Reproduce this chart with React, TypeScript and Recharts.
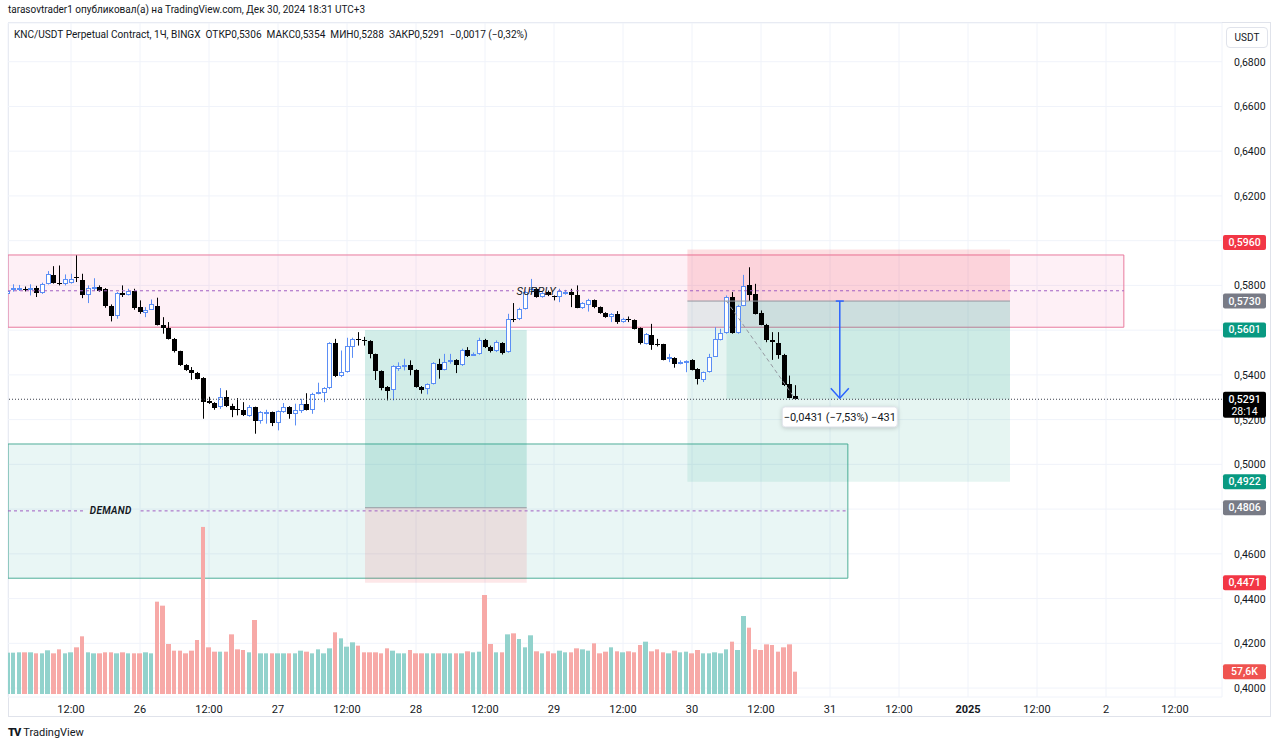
import React from 'react';
import {
  ComposedChart,
  Bar,
  XAxis,
  YAxis,
  CartesianGrid,
  ReferenceArea,
  ReferenceLine,
  ReferenceDot,
} from 'recharts';

// ---------- DATA ----------
// hourly candles, hour index relative to 26 Dec 2024 00:00 (UTC+3)
const FIRST_HOUR = -23;

const opens = [
  0.5763, 0.5785, 0.5784, 0.5784, 0.5778, 0.5789, 0.5765, 0.5807, 0.5847, 0.5811,
  0.5807, 0.5811, 0.5836, 0.5826, 0.5755, 0.5788, 0.5795, 0.5782, 0.571, 0.5663,
  0.5767, 0.5758, 0.5773, 0.5703, 0.5678, 0.5692, 0.571, 0.5625, 0.5611, 0.5561,
  0.5505, 0.5445, 0.5423, 0.5408, 0.5387, 0.5282, 0.5275, 0.5256, 0.5301, 0.5263,
  0.5246, 0.5241, 0.5216, 0.5256, 0.5192, 0.5228, 0.5234, 0.5186, 0.5234, 0.5256,
  0.5226, 0.5237, 0.5271, 0.5244, 0.5316, 0.5318, 0.534, 0.5542, 0.5393, 0.5413,
  0.5524, 0.5561, 0.5555, 0.5551, 0.5492, 0.5418, 0.5346, 0.5331, 0.5428, 0.5437,
  0.5445, 0.5423, 0.5348, 0.5336, 0.536, 0.545, 0.5423, 0.5457, 0.5467, 0.5445,
  0.5512, 0.549, 0.5494, 0.5554, 0.5524, 0.5505, 0.5542, 0.5502, 0.5651, 0.5648,
  0.5695, 0.577, 0.5785, 0.5748, 0.577, 0.5752, 0.5748, 0.5762, 0.5772, 0.5755,
  0.57, 0.5713, 0.5733, 0.5703, 0.5676, 0.5658, 0.567, 0.5636, 0.5648, 0.5646,
  0.561, 0.5539, 0.5579, 0.554, 0.5536, 0.5472, 0.5476, 0.5453, 0.5457, 0.5467,
  0.5427, 0.5378, 0.5412, 0.5482, 0.5557, 0.5587, 0.5747, 0.5587, 0.571, 0.5802,
  0.5762, 0.5676, 0.5625, 0.5557, 0.5542, 0.5491, 0.5357, 0.5306,
];
const highs = [
  0.5785, 0.5805, 0.5802, 0.5795, 0.5805, 0.5798, 0.5812, 0.5864, 0.5886, 0.5889,
  0.5849, 0.5852, 0.5934, 0.5852, 0.58, 0.5832, 0.58, 0.5788, 0.5715, 0.577,
  0.58, 0.5785, 0.5785, 0.5733, 0.5703, 0.5737, 0.5745, 0.5658, 0.5636, 0.5565,
  0.5508, 0.5448, 0.5435, 0.5413, 0.539, 0.5302, 0.5278, 0.5341, 0.5331, 0.5271,
  0.5296, 0.5278, 0.5265, 0.5258, 0.5238, 0.5244, 0.5236, 0.5241, 0.5274, 0.526,
  0.5271, 0.5293, 0.5318, 0.532, 0.5365, 0.5345, 0.5546, 0.5561, 0.5509, 0.5566,
  0.5566, 0.5591, 0.557, 0.5555, 0.5495, 0.542, 0.535, 0.5443, 0.5456, 0.5472,
  0.5465, 0.5425, 0.535, 0.5362, 0.5457, 0.5472, 0.5494, 0.5494, 0.547, 0.5517,
  0.5524, 0.55, 0.5566, 0.5561, 0.5531, 0.5554, 0.5546, 0.5673, 0.5721, 0.57,
  0.5777, 0.5829, 0.579, 0.577, 0.5777, 0.5755, 0.5785, 0.578, 0.5785, 0.58,
  0.5725, 0.574, 0.5737, 0.5706, 0.568, 0.5676, 0.5685, 0.5655, 0.5661, 0.5648,
  0.5612, 0.5587, 0.5628, 0.5561, 0.5539, 0.5494, 0.5479, 0.5465, 0.5465, 0.547,
  0.543, 0.5415, 0.5494, 0.5613, 0.5606, 0.5755, 0.577, 0.5713, 0.5847, 0.5881,
  0.5807, 0.5688, 0.5628, 0.5591, 0.5591, 0.5494, 0.5397, 0.5354,
];
const lows = [
  0.5758, 0.5772, 0.5775, 0.5773, 0.5755, 0.5748, 0.5762, 0.5804, 0.5808, 0.58,
  0.58, 0.5808, 0.5815, 0.5743, 0.5721, 0.5777, 0.5772, 0.57, 0.5639, 0.5651,
  0.5748, 0.5755, 0.5691, 0.5673, 0.5658, 0.569, 0.5621, 0.5584, 0.5558, 0.55,
  0.544, 0.5418, 0.5378, 0.538, 0.5204, 0.527, 0.5244, 0.5248, 0.5256, 0.5211,
  0.5219, 0.5216, 0.5213, 0.5137, 0.5182, 0.5182, 0.5171, 0.5152, 0.523, 0.5204,
  0.5174, 0.523, 0.5241, 0.5226, 0.5313, 0.5278, 0.5336, 0.539, 0.539, 0.541,
  0.5476, 0.5531, 0.5531, 0.5474, 0.5377, 0.5331, 0.5286, 0.5286, 0.5418, 0.542,
  0.5398, 0.5343, 0.5316, 0.5313, 0.5357, 0.5383, 0.542, 0.545, 0.5408, 0.544,
  0.548, 0.5488, 0.549, 0.552, 0.55, 0.5502, 0.5491, 0.5499, 0.5636, 0.5645,
  0.5692, 0.5762, 0.5745, 0.5745, 0.5752, 0.5733, 0.5725, 0.5758, 0.5703, 0.5698,
  0.5695, 0.5683, 0.5698, 0.5673, 0.5655, 0.5636, 0.5628, 0.5633, 0.5636, 0.5603,
  0.5536, 0.5536, 0.5512, 0.5527, 0.5465, 0.5457, 0.5432, 0.5447, 0.5412, 0.542,
  0.5357, 0.5368, 0.541, 0.548, 0.5554, 0.5584, 0.5584, 0.5584, 0.5707, 0.573,
  0.567, 0.5622, 0.5546, 0.5467, 0.5472, 0.535, 0.5295, 0.5288,
];
const closes = [
  0.5777, 0.579, 0.5789, 0.578, 0.5789, 0.5765, 0.5807, 0.5852, 0.5811, 0.5806,
  0.5829, 0.5829, 0.5832, 0.5755, 0.5788, 0.5793, 0.5777, 0.571, 0.5663, 0.5765,
  0.5755, 0.5773, 0.57, 0.568, 0.5691, 0.5715, 0.5625, 0.5611, 0.5561, 0.5505,
  0.5445, 0.5423, 0.5408, 0.5383, 0.5278, 0.5276, 0.5253, 0.5301, 0.5259, 0.5241,
  0.5244, 0.5219, 0.5256, 0.5192, 0.5234, 0.5234, 0.5186, 0.5237, 0.5256, 0.5226,
  0.5241, 0.5271, 0.5244, 0.5316, 0.5323, 0.534, 0.5542, 0.5393, 0.5413, 0.5531,
  0.5561, 0.5555, 0.5551, 0.5492, 0.5418, 0.5343, 0.5328, 0.5438, 0.5441, 0.5445,
  0.542, 0.5346, 0.5334, 0.536, 0.5453, 0.5423, 0.5457, 0.5467, 0.5445, 0.5512,
  0.5484, 0.5494, 0.5554, 0.5524, 0.5505, 0.5546, 0.5497, 0.5651, 0.5646, 0.5695,
  0.577, 0.5785, 0.5748, 0.5765, 0.5755, 0.5748, 0.5777, 0.577, 0.5758, 0.57,
  0.5721, 0.5733, 0.5703, 0.5676, 0.5658, 0.5673, 0.5636, 0.5651, 0.5646, 0.5606,
  0.5542, 0.5584, 0.5535, 0.5538, 0.5467, 0.5479, 0.545, 0.5457, 0.5462, 0.5423,
  0.5383, 0.5412, 0.5482, 0.5561, 0.5587, 0.5747, 0.5587, 0.571, 0.5797, 0.5759,
  0.5673, 0.5625, 0.5554, 0.5546, 0.5487, 0.5353, 0.5298, 0.5291,
];
// volume, thousands of KNC
const volumesK = [
  106.6, 106.6, 107.5, 107.5, 107.5, 104.9, 104.9, 112.7, 104.9, 115.2,
  104.9, 107.5, 120.4, 148.8, 107.5, 104.9, 104.9, 107.5, 107.5, 104.9,
  107.5, 104.9, 104.9, 104.9, 107.5, 104.9, 238.2, 227.9, 129, 111.8,
  111.8, 104.9, 111.8, 139.3, 431, 120.4, 109.2, 109.2, 109.2, 153.9,
  115.2, 113.5, 107.5, 190.9, 104.9, 104.9, 104.9, 104.9, 104.9, 104.9,
  104.9, 111.8, 109.2, 104.9, 115.2, 104.9, 117.8, 159.1, 143.6, 122.1,
  133.3, 124.7, 107.5, 107.5, 107.5, 104.9, 117.8, 111.8, 104.9, 104.9,
  113.5, 104.9, 104.9, 104.9, 104.9, 104.9, 104.9, 104.9, 104.9, 104.9,
  110.1, 107.5, 109.2, 255.4, 129, 107.5, 107.5, 153.9, 156.5, 141.9,
  120.4, 151.4, 110.1, 104.9, 110.1, 104.9, 111.8, 107.5, 107.5, 117.8,
  115.2, 111.8, 130.7, 104.9, 109.2, 120.4, 110.1, 107.5, 110.1, 107.5,
  126.4, 135, 110.1, 115.2, 107.5, 104.9, 111.8, 107.5, 109.2, 104.9,
  113.5, 104.9, 104.9, 107.5, 104.9, 115.2, 135, 113.5, 201.2, 171.1,
  115.2, 113.5, 128.1, 126.4, 109.2, 120.4, 128.1, 57.6,
];

// time axis
const timeTicks = [-12, 0, 12, 24, 36, 48, 60, 72, 84, 96, 108, 120, 132, 144, 156, 168, 180];
const timeTickLabels = ['12:00', '26', '12:00', '27', '12:00', '28', '12:00', '29', '12:00', '30', '12:00', '31', '12:00', '2025', '12:00', '2', '12:00'];
// price axis
const priceTicks = [0.4, 0.42, 0.44, 0.46, 0.48, 0.5, 0.52, 0.54, 0.56, 0.58, 0.6, 0.62, 0.64, 0.66, 0.68];
// price-scale labels that sit fully under a price tag
const coveredPriceTicks = [0.48, 0.56];

// drawings (hour index / price)
const supplyZone = { from: -22.96, to: 171.1, top: 0.5936, bottom: 0.5613, mid: 0.5776, labelAt: 68.9, gapFrom: 65.0, gapTo: 72.7 };
const demandZone = { from: -22.96, to: 123.1, top: 0.5091, bottom: 0.4491, mid: 0.4792, labelAt: -5.1, gapFrom: -9.9, gapTo: 0.1 };
const longPos = { from: 39.13, to: 67.25, target: 0.5601, entry: 0.4806, stop: 0.4471 };
const shortPos = { from: 95.2, to: 151.3, stop: 0.596, entry: 0.573, target: 0.4922, fillFrom: 102.0, current: 0.5291 };
const measure = { at: 121.7, from: 0.573, to: 0.5296, label: '\u22120,0431 (\u22127,53%) \u2212431', labelPrice: 0.5212 };
const tradeLine = { x1: 102.0, p1: 0.573, x2: 114, p2: 0.5291 };
const lastPrice = 0.5291;
const lastVolumeK = 57.6;

// ---------- LAYOUT / STYLE ----------
const W = 1280;
const H = 748;
const X_MIN = -22.96;
const X_MAX = 188.17;
const P_MIN = 0.396;
const P_MAX = 0.6973;
const V_MIN = -7.74;
const V_MAX = 1731;
const FONT = "Roboto, 'Noto Sans', 'DejaVu Sans', sans-serif";
const TEXT = '#131722';
const UP = '#5b8ef5';
const DOWN = '#000000';
const VOL_UP = '#92d2cc';
const VOL_DOWN = '#f7a9a7';
const RED = '#f23645';
const GREEN = '#089981';
const GREY = '#787b86';
const MARGIN = { top: 23, right: 8, bottom: 31, left: 8 };
const OVERLAY_MARGIN = { top: 23, right: 58, bottom: 51, left: 8 };

const fmtPrice = (v: number) => v.toFixed(4).replace('.', ',');

const data = opens.map((o, i) => ({
  t: FIRST_HOUR + i,
  open: o,
  high: highs[i],
  low: lows[i],
  close: closes[i],
  range: [lows[i], highs[i]],
  vol: volumesK[i],
}));

function CandleShape(props: any) {
  const { x, y, width, height, payload } = props;
  if (x == null || y == null || !payload) return null;
  const top = Math.min(y, y + height);
  const h = Math.abs(height);
  const { open, high, low, close } = payload;
  const k = h / (high - low);
  const yO = top + (high - open) * k;
  const yC = top + (high - close) * k;
  const up = close >= open;
  const c = Math.round(x + width / 2);
  const bTop = Math.round(Math.min(yO, yC));
  const bBot = Math.round(Math.max(yO, yC));
  const color = up ? UP : DOWN;
  return (
    <g>
      <line x1={c + 0.5} x2={c + 0.5} y1={top} y2={top + h} stroke={color} strokeWidth={1} />
      {up ? (
        <rect x={c - 1.5} y={bTop + 0.5} width={4} height={Math.max(1, bBot - bTop - 1)} fill="#ffffff" stroke={color} strokeWidth={1} />
      ) : (
        <rect x={c - 2} y={bTop} width={5} height={Math.max(1, bBot - bTop)} fill={color} />
      )}
    </g>
  );
}

function VolumeShape(props: any) {
  const { x, y, width, height, payload } = props;
  if (x == null || y == null || !payload) return null;
  const cx = x + width / 2;
  const l = Math.round(cx - 2.3);
  const r = Math.round(cx + 2.3);
  const top = Math.min(y, y + height);
  return <rect x={l} y={top} width={r - l} height={Math.abs(height)} fill={payload.close >= payload.open ? VOL_UP : VOL_DOWN} />;
}

const makeTag = (text: string, bg: string, dy = 0, sub?: string) => (p: any) => {
  const { cx, cy } = p;
  const x = cx + 1;
  const w = 43;
  const h = sub ? 26 : 15;
  const y0 = cy + dy - 7.5;
  return (
    <g>
      <rect x={x} y={y0} width={w} height={h} rx={2} fill={bg} />
      <text x={x + w / 2} y={y0 + 11} textAnchor="middle" fontFamily={FONT} fontSize={10.5} fill="#ffffff" fontWeight={500}>{text}</text>
      {sub ? (
        <text x={x + w / 2} y={y0 + 23} textAnchor="middle" fontFamily={FONT} fontSize={10.5} fill="#ffffff">{sub}</text>
      ) : null}
    </g>
  );
};

const textShape = (text: string, size: number, weight: number) => (p: any) => (
  <text x={p.cx} y={p.cy + size * 0.36} textAnchor="middle" fontFamily={FONT} fontSize={size} fontStyle="italic" fontWeight={weight} fill={TEXT} letterSpacing={0.3}>
    {text}
  </text>
);

const measureLabel = (p: any) => (
  <g>
    <rect x={p.cx - 57.5} y={p.cy - 10} width={115} height={20} rx={3} fill="#ffffff" stroke="#e0e3eb" strokeWidth={1} style={{ filter: 'drop-shadow(0px 1px 2px rgba(0,0,0,0.18))' }} />
    <text x={p.cx} y={p.cy + 4} textAnchor="middle" fontFamily={FONT} fontSize={11} fill={TEXT}>{measure.label}</text>
  </g>
);

const arrowHead = (p: any) => (
  <path d={`M ${p.cx - 9} ${p.cy - 10} L ${p.cx} ${p.cy} L ${p.cx + 9} ${p.cy - 10}`} fill="none" stroke="#2962ff" strokeWidth={1.5} />
);
const arrowCap = (p: any) => (
  <line x1={p.cx - 4} x2={p.cx + 4} y1={p.cy} y2={p.cy} stroke="#2962ff" strokeWidth={1.5} />
);

const XTick = (p: any) => {
  const idx = timeTicks.indexOf(p.payload.value);
  const label = idx >= 0 ? timeTickLabels[idx] : '';
  return (
    <text x={p.x} y={p.y + 8} textAnchor="middle" fontFamily={FONT} fontSize={11} fill={TEXT} fontWeight={label === '2025' ? 700 : 400}>
      {label}
    </text>
  );
};

const YTick = (p: any) => {
  const v = p.payload.value;
  if (coveredPriceTicks.some((c) => Math.abs(c - v) < 1e-9)) return null;
  return (
    <text x={p.x + 6} y={p.y + 4} textAnchor="start" fontFamily={FONT} fontSize={10.5} fill={TEXT}>
      {fmtPrice(v)}
    </text>
  );
};

export default function App() {
  return (
    <div style={{ position: 'absolute', left: 0, top: 0, width: W, height: H, background: '#ffffff', overflow: 'hidden' }}>
      {/* header */}
      <div style={{ position: 'absolute', left: 8, top: 4, fontFamily: FONT, fontSize: 10, color: TEXT, whiteSpace: 'nowrap' }}>
        tarasovtrader1 опубликовал(а) на TradingView.com, Дек 30, 2024 18:31 UTC+3
      </div>
      {/* chart frame */}
      <div style={{ position: 'absolute', left: 8, top: 22, width: 1263, height: 695, border: '1px solid #e0e3eb', boxSizing: 'border-box', pointerEvents: 'none' }} />
      <div style={{ position: 'absolute', left: 0, top: 0 }}>
        <ComposedChart width={W} height={H} data={data} margin={MARGIN}>
          <CartesianGrid stroke="#f0f3fa" strokeWidth={1} />
          <XAxis
            dataKey="t"
            type="number"
            domain={[X_MIN, X_MAX]}
            allowDataOverflow
            ticks={timeTicks}
            interval={0}
            tick={<XTick />}
            tickLine={false}
            axisLine={false}
            height={20}
          />
          <XAxis xAxisId="vol" dataKey="t" type="number" domain={[X_MIN, X_MAX]} allowDataOverflow hide />
          <YAxis
            orientation="right"
            type="number"
            domain={[P_MIN, P_MAX]}
            allowDataOverflow
            ticks={priceTicks}
            interval={0}
            tick={<YTick />}
            tickLine={false}
            axisLine={false}
            tickMargin={0}
            width={50}
          />
          <YAxis yAxisId="vol" type="number" domain={[V_MIN, V_MAX]} allowDataOverflow hide />

          {/* demand zone */}
          <ReferenceArea x1={demandZone.from} x2={demandZone.to} y1={demandZone.bottom} y2={demandZone.top} fill="rgba(38,166,154,0.2)" stroke="#4fae98" strokeWidth={1} ifOverflow="hidden" />
          {/* supply zone */}
          <ReferenceArea x1={supplyZone.from} x2={supplyZone.to} y1={supplyZone.bottom} y2={supplyZone.top} fill="rgba(242,54,129,0.15)" stroke="#e8799d" strokeWidth={1} ifOverflow="hidden" />
          {/* long position */}
          <ReferenceArea x1={longPos.from} x2={longPos.to} y1={longPos.entry} y2={longPos.target} fill="rgba(8,153,129,0.36)" stroke="none" ifOverflow="hidden" />
          <ReferenceArea x1={longPos.from} x2={longPos.to} y1={longPos.stop} y2={longPos.entry} fill="rgba(242,54,69,0.24)" stroke="none" ifOverflow="hidden" />
          {/* short position */}
          <ReferenceArea x1={shortPos.from} x2={shortPos.to} y1={shortPos.entry} y2={shortPos.stop} fill="rgba(242,54,69,0.3)" stroke="none" ifOverflow="hidden" />
          <ReferenceArea x1={shortPos.from} x2={shortPos.to} y1={shortPos.target} y2={shortPos.entry} fill="rgba(8,153,129,0.2)" stroke="none" ifOverflow="hidden" />
          <ReferenceArea x1={shortPos.fillFrom} x2={shortPos.to} y1={shortPos.current} y2={shortPos.entry} fill="rgba(8,153,129,0.22)" stroke="none" ifOverflow="hidden" />

          <Bar xAxisId="vol" yAxisId="vol" dataKey="vol" barSize={5} shape={<VolumeShape />} isAnimationActive={false} />
          <Bar dataKey="range" barSize={5} shape={<CandleShape />} isAnimationActive={false} />

          {/* zone midlines */}
          <ReferenceLine segment={[{ x: supplyZone.from, y: supplyZone.mid }, { x: supplyZone.gapFrom, y: supplyZone.mid }]} stroke="#a05fc2" strokeDasharray="3 3" ifOverflow="hidden" />
          <ReferenceLine segment={[{ x: supplyZone.gapTo, y: supplyZone.mid }, { x: supplyZone.to, y: supplyZone.mid }]} stroke="#a05fc2" strokeDasharray="3 3" ifOverflow="hidden" />
          <ReferenceLine segment={[{ x: demandZone.from, y: demandZone.mid }, { x: demandZone.gapFrom, y: demandZone.mid }]} stroke="#a05fc2" strokeDasharray="3 3" ifOverflow="hidden" />
          <ReferenceLine segment={[{ x: demandZone.gapTo, y: demandZone.mid }, { x: demandZone.to, y: demandZone.mid }]} stroke="#a05fc2" strokeDasharray="3 3" ifOverflow="hidden" />
          {/* entry lines */}
          <ReferenceLine segment={[{ x: longPos.from, y: longPos.entry }, { x: longPos.to, y: longPos.entry }]} stroke="#9598a1" strokeWidth={1} />
          <ReferenceLine segment={[{ x: shortPos.from, y: shortPos.entry }, { x: shortPos.to, y: shortPos.entry }]} stroke="#9598a1" strokeWidth={1} />
          <ReferenceLine segment={[{ x: tradeLine.x1, y: tradeLine.p1 }, { x: tradeLine.x2, y: tradeLine.p2 }]} stroke="#9598a1" strokeDasharray="4 3" strokeWidth={1} />
          {/* last price */}
          <ReferenceLine y={lastPrice} stroke="#3a3e4a" strokeDasharray="1 2" strokeWidth={1} />
          {/* measure arrow */}
          <ReferenceLine segment={[{ x: measure.at, y: measure.from }, { x: measure.at, y: measure.to }]} stroke="#2962ff" strokeWidth={1.5} />
          <ReferenceDot x={measure.at} y={measure.to} r={0} shape={arrowHead} ifOverflow="visible" />
          <ReferenceDot x={measure.at} y={measure.from} r={0} shape={arrowCap} ifOverflow="visible" />
          <ReferenceDot x={measure.at} y={measure.labelPrice} r={0} shape={measureLabel} ifOverflow="visible" />

          {/* zone labels */}
          <ReferenceDot x={supplyZone.labelAt} y={supplyZone.mid} r={0} shape={textShape('SUPPLY', 11, 400)} ifOverflow="visible" />
          <ReferenceDot x={demandZone.labelAt} y={demandZone.mid} r={0} shape={textShape('DEMAND', 10, 600)} ifOverflow="visible" />
        </ComposedChart>
      </div>
      {/* price-scale tags: same scales, drawn above the axis labels */}
      <div style={{ position: 'absolute', left: 0, top: 0, pointerEvents: 'none' }}>
        <ComposedChart width={W} height={H} data={data} margin={OVERLAY_MARGIN}>
          <XAxis dataKey="t" type="number" domain={[X_MIN, X_MAX]} allowDataOverflow hide />
          <XAxis xAxisId="vol" dataKey="t" type="number" domain={[X_MIN, X_MAX]} allowDataOverflow hide />
          <YAxis type="number" domain={[P_MIN, P_MAX]} allowDataOverflow hide />
          <YAxis yAxisId="vol" type="number" domain={[V_MIN, V_MAX]} allowDataOverflow hide />
          <ReferenceDot x={X_MAX} y={shortPos.stop} r={0} shape={makeTag(fmtPrice(shortPos.stop), RED, -7)} ifOverflow="visible" />
          <ReferenceDot x={X_MAX} y={shortPos.entry} r={0} shape={makeTag(fmtPrice(shortPos.entry), GREY)} ifOverflow="visible" />
          <ReferenceDot x={X_MAX} y={longPos.target} r={0} shape={makeTag(fmtPrice(longPos.target), GREEN)} ifOverflow="visible" />
          <ReferenceDot x={X_MAX} y={lastPrice} r={0} shape={makeTag(fmtPrice(lastPrice), '#000000', 0, '28:14')} ifOverflow="visible" />
          <ReferenceDot x={X_MAX} y={shortPos.target} r={0} shape={makeTag(fmtPrice(shortPos.target), GREEN)} ifOverflow="visible" />
          <ReferenceDot x={X_MAX} y={longPos.entry} r={0} shape={makeTag(fmtPrice(longPos.entry), GREY)} ifOverflow="visible" />
          <ReferenceDot x={X_MAX} y={longPos.stop} r={0} shape={makeTag(fmtPrice(longPos.stop), RED)} ifOverflow="visible" />
          <ReferenceDot xAxisId="vol" yAxisId="vol" x={X_MAX} y={lastVolumeK} r={0} shape={makeTag('57,6K', '#ef5350')} ifOverflow="visible" />
        </ComposedChart>
      </div>
      {/* legend */}
      <div style={{ position: 'absolute', left: 14, top: 29, fontFamily: FONT, fontSize: 10.1, color: TEXT, whiteSpace: 'pre' }}>
        {'KNC/USDT Perpetual Contract, 1Ч, BINGX  ОТКР0,5306  МАКС0,5354  МИН0,5288  ЗАКР0,5291  \u22120,0017 (\u22120,32%)'}
      </div>
      {/* currency button */}
      <div style={{ position: 'absolute', left: 1226, top: 27, width: 42, height: 21, border: '1px solid #e0e3eb', borderRadius: 4, boxSizing: 'border-box', background: '#fff', fontFamily: FONT, fontSize: 10, color: TEXT, display: 'flex', alignItems: 'center', justifyContent: 'center' }}>
        USDT
      </div>
      {/* footer */}
      <div style={{ position: 'absolute', left: 8, top: 726, fontFamily: FONT, fontSize: 11, color: TEXT, whiteSpace: 'nowrap' }}>
        <span style={{ fontWeight: 900, letterSpacing: -1, marginRight: 3 }}>TV</span>TradingView
      </div>
    </div>
  );
}
